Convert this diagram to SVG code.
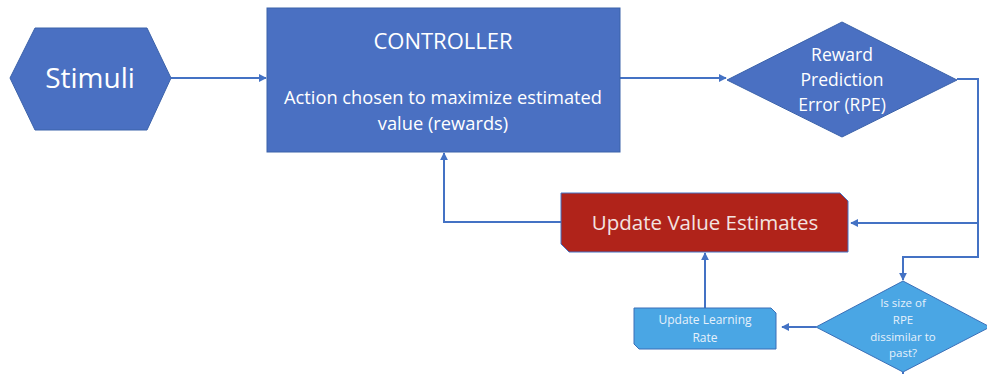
<svg xmlns="http://www.w3.org/2000/svg" width="987" height="374" viewBox="0 0 987 374">
  <defs>
    <marker id="arrow" viewBox="0 0 10 10" refX="9" refY="5" markerWidth="4" markerHeight="4" orient="auto-start-reverse">
      <path d="M0,0 L10,5 L0,10 z" fill="#4472C4"/>
    </marker>
    <style>
      .dark { fill: #4a70c2; stroke: #3b62aa; stroke-width: 1; }
      .red { fill: #b0231a; stroke: #4472C4; stroke-width: 1; }
      .light { fill: #4aa6e4; stroke: #3a6fb8; stroke-width: 1; }
      .conn { fill: none; stroke: #4472C4; stroke-width: 2; }
      text { font-family: "Open Sans", "Liberation Sans", sans-serif; text-anchor: middle; }
      .w { fill: #ffffff; }
      .lw { fill: #e6f1fb; }
    </style>
  </defs>

  <!-- connectors -->
  <g id="connectors">
    <line class="conn" x1="171" y1="78" x2="266" y2="78" marker-end="url(#arrow)"/>
    <line class="conn" x1="620" y1="78" x2="726" y2="78" marker-end="url(#arrow)"/>
    <polyline class="conn" points="957,79 978,79 978,223 851,223" marker-end="url(#arrow)"/>
    <polyline class="conn" points="978,223 978,257 903,257 903,280" marker-end="url(#arrow)"/>
    <polyline class="conn" points="561,222 444,222 444,153" marker-end="url(#arrow)"/>
    <line class="conn" x1="705" y1="308" x2="705" y2="253" marker-end="url(#arrow)"/>
    <line class="conn" x1="816" y1="327" x2="782" y2="327" marker-end="url(#arrow)"/>
    <line class="conn" x1="903" y1="372" x2="903" y2="376"/>
  </g>

  <!-- stimuli hexagon -->
  <g id="stimuli">
    <polygon class="dark" points="10,78 35,28 147,28 171,78 147,130 35,130"/>
    <text class="w" x="90" y="88" font-size="28">Stimuli</text>
  </g>

  <!-- controller block -->
  <g id="controller">
    <rect class="dark" x="267" y="8" width="353" height="144"/>
    <text class="w" x="443" y="49" font-size="22">CONTROLLER</text>
    <text class="w" x="443" y="104" font-size="18.3">Action chosen to maximize estimated</text>
    <text class="w" x="443" y="130" font-size="18.3">value (rewards)</text>
  </g>

  <!-- reward prediction error decision -->
  <g id="rpe">
    <polygon class="dark" points="727,80 842,22 957,80 842,137"/>
    <text class="w" x="842" y="61" font-size="17.5">Reward</text>
    <text class="w" x="842" y="86" font-size="17.5">Prediction</text>
    <text class="w" x="842" y="111" font-size="17.5">Error (RPE)</text>
  </g>

  <!-- value update step -->
  <g id="update-value">
    <polygon class="red" points="561,193 840,193 848,201 848,252 569,252 561,244"/>
    <text x="705" y="230" font-size="20.5" fill="#f3e3e1">Update Value Estimates</text>
  </g>

  <!-- learning rate update step -->
  <g id="update-rate">
    <polygon class="light" points="634,308 771,308 776,313 776,349 639,349 634,344"/>
    <text class="lw" x="705" y="324" font-size="12">Update Learning</text>
    <text class="lw" x="705" y="342" font-size="12">Rate</text>
  </g>

  <!-- dissimilarity decision -->
  <g id="dissimilar">
    <polygon class="light" points="816,327 903,281 990,327 903,372"/>
    <text class="lw" x="903" y="307" font-size="11.5">Is size of</text>
    <text class="lw" x="903" y="324" font-size="11.5">RPE</text>
    <text class="lw" x="903" y="341" font-size="11.5">dissimilar to</text>
    <text class="lw" x="903" y="357" font-size="11.5">past?</text>
  </g>
</svg>
